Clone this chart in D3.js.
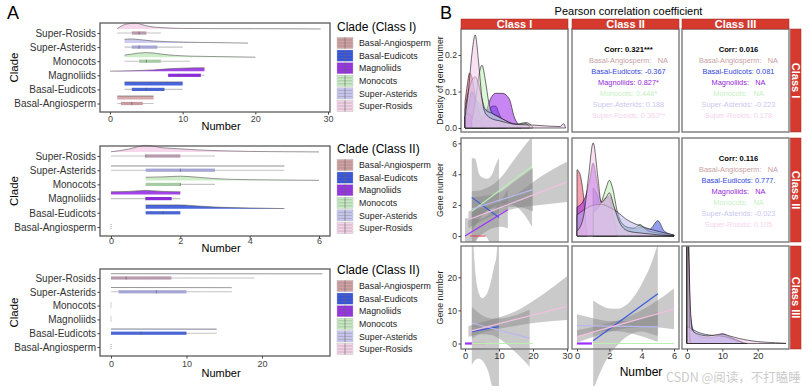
<!DOCTYPE html>
<html><head><meta charset="utf-8">
<script src="https://cdn.jsdelivr.net/npm/d3@7"></script>
<style>body{margin:0;background:#fff}svg{display:block;font-family:"Liberation Sans",Arial,sans-serif}</style>
</head><body><svg id="c" width="807" height="391"></svg>
<script>
// ================= DATA =================
const clades = ["Basal-Angiosperm","Basal-Eudicots","Magnoliids","Monocots","Super-Asterids","Super-Rosids"];
const classNames = ["Class I","Class II","Class III"];
const legendTitles = ["Clade (Class I)","Clade (Class II)","Clade (Class II)"];
const colorsA = ["#d2a0a3","#3553dc","#9630e4","#c6ebc2","#c6c6ef","#f5d3e9"];
const boxColorsA = ["#c8999d","#4a66d4","#8c2cd8","#a7cba4","#a6a6d4","#b89aae"];
const colorsB = ["#f0506e","#3a50e0","#9a22e8","#bfeeb8","#b8b8ec","#f2c8e8"];
const lineColorsB = ["#e8485c","#3a5ae0","#9b30ff","#b8f0b0","#b8b8f0","#f2c0e0"];
const textColorsB = ["#c9a1a3","#3046de","#9526d9","#c6f0c3","#c8c8f2","#f6d4ec"];

// Panel A boxplots [min, q1, median, q3, max] per clade
const boxClassI   = [[1,1.5,3,4.5,6],[2,3,5,7.5,10],[8,8,9.5,12.5,13],[2,4,5,7,11],[2,3,4,6.5,10],[1,3,4,5,7]];
const boxClassII  = [[0,0,0,0,0],[1,1,1.5,2,2],[0,1,1,1.75,2],[1,1,2,2,3],[0,1,2,3,5],[0,1,1,2,3]];
const boxClassIII = [[0,0,0,0,0],[0,0,4,10,14],[0,0,0,0,0],[0,0,0,0,0],[0,1,6,10,16],[0,0,2,8,19]];
// Panel A half-densities [number, relative height]
const densClassI = [
  [[1,0.5],[6,0.5]],
  [[2,0.5],[10,0.5]],
  [[0,0.02],[3,0.08],[6,0.2],[8,0.35],[10,0.45],[13,0.5]],
  [[2,0.3],[3,0.45],[4,0.6],[5,0.65],[6,0.6],[7,0.45],[9,0.25],[11,0.15],[14,0.1],[17,0.05],[20,0]],
  [[2,0.55],[3,0.6],[4,0.5],[6,0.3],[8,0.2],[10,0.15],[12,0.1],[15,0.06],[19,0]],
  [[1,0.05],[1.5,0.4],[2.5,0.75],[3.5,0.85],[4.5,0.6],[5.5,0.35],[7,0.2],[10,0.08],[15,0.05],[20,0.04],[25,0.03],[29,0]]
];
const densClassII = [
  null,
  [[1,0.55],[2,0.55],[2.5,0.4],[3,0.25],[4,0.12],[5,0.03]],
  [[0,0.4],[0.5,0.45],[1,0.6],[1.5,0.45],[2,0.4]],
  [[1,0.45],[1.5,0.5],[2,0.6],[2.5,0.45],[3,0.25],[4,0.1],[5,0.05],[6,0.01]],
  [[0,0.04],[5,0.03]],
  [[0,0.03],[0.5,0.4],[1,0.95],[1.5,0.6],[2,0.45],[2.5,0.3],[3,0.2],[4,0.08],[5,0.04],[6,0.01]]
];
const densClassIII = [
  null,
  [[0,0.04],[14,0.02]],
  null,
  null,
  [[0,0.04],[16,0.02]],
  [[0,0.04],[28,0.02]]
];

// Panel B diagonal densities [number, density]
const diagClassI = [
  [[0,0.07],[0.7,0.12],[1.3,0.15],[2,0.14],[3,0.09],[4,0.05],[5,0.02],[6,0.005]],
  [[0,0.03],[1,0.06],[2,0.1],[3,0.08],[4,0.07],[5,0.06],[6,0.05],[7,0.05],[8,0.06],[9,0.06],[10,0.04],[11,0.02],[12,0.005]],
  [[0,0.03],[1,0.04],[2,0.03],[4,0.02],[6,0.04],[7.5,0.08],[9,0.095],[11,0.095],[13,0.08],[14.5,0.03],[16.5,0.003]],
  [[2,0.02],[3,0.07],[4,0.14],[5,0.172],[6,0.13],[7,0.07],[8,0.04],[10,0.03],[12,0.02],[15,0.01],[18,0.015],[20,0.002]],
  [[0,0.05],[1,0.1],[2,0.13],[3,0.14],[4,0.12],[5,0.08],[6,0.05],[8,0.04],[10,0.03],[12,0.02],[15,0.01],[18,0.012],[19,0.002]],
  [[0,0.03],[1,0.1],[2,0.2],[3,0.255],[4,0.18],[5,0.08],[6,0.04],[8,0.025],[10,0.02],[15,0.01],[20,0.008],[25,0.005],[28,0.004],[29,0.012],[29.6,0]]
];
const diagClassII = [
  [[0,0.69],[0.15,0.66],[0.3,0.55],[0.45,0.33],[0.55,0.12],[0.62,0]],
  [[1,0.5],[1.2,0.45],[1.5,0.3],[1.8,0.38],[2,0.42],[2.3,0.3],[2.7,0.15],[3,0.1],[3.5,0.08],[4,0.09],[4.5,0.07],[5,0.16],[5.4,0.05],[6,0.01]],
  [[0,0.3],[0.5,0.4],[0.8,0.6],[1,0.76],[1.2,0.6],[1.5,0.35],[1.8,0.4],[2,0.4],[2.3,0.15],[2.5,0.02]],
  [[1,0.25],[1.5,0.35],[1.8,0.5],[2,0.58],[2.2,0.5],[2.5,0.25],[3,0.1],[3.5,0.08],[3.9,0.12],[4.3,0.06],[5,0.03],[6,0]],
  [[0,0.22],[0.5,0.28],[1,0.32],[1.5,0.33],[2,0.3],[2.5,0.25],[3,0.18],[4,0.1],[5,0.05],[6,0.01]],
  [[0,0.05],[0.4,0.2],[0.7,0.6],[1,0.97],[1.3,0.6],[1.5,0.35],[1.8,0.4],[2,0.45],[2.3,0.3],[2.7,0.12],[3.2,0.05],[4,0.03],[6,0]]
];
const diagClassIII = [
  [[0,1.5],[0.3,1.5],[0.6,0]],
  [[0,1.2],[0.5,0.8],[1,0.3],[2,0.12],[4,0.07],[6,0.06],[8,0.07],[10,0.1],[12,0.07],[14,0.04],[16,0.01],[17,0]],
  [[0,1.5],[0.3,1.5],[0.8,0.1],[1.2,0]],
  [[0,1.5],[0.3,1.5],[0.7,0.05],[1,0]],
  [[0,0.18],[1,0.16],[3,0.12],[6,0.09],[9,0.08],[11,0.07],[14,0.03],[16,0.005]],
  [[0,1.3],[0.5,0.9],[1,0.35],[1.5,0.14],[3,0.1],[6,0.08],[8,0.09],[10,0.1],[12,0.08],[15,0.05],[20,0.02],[25,0.008],[28,0.002]]
];

// Panel B regression lines [cladeIndex, x0, y0, x1, y1]
const linesIvsII = [[0,1.5,0,6,0],[1,2,2.5,10,1.2],[2,0,0,12.6,1.7],[3,2,1.6,19.7,4.5],[4,2,1.75,20,3.0],[5,1,1.05,30,3.5]];
const linesIvsIII = [[0,1,0,6,0],[2,0,0,2,0],[3,2,0,20,0],[1,2,3.6,10,5.1],[4,2,6.2,19,1.6],[5,1,3.6,30,11.2]];
const linesIIvsIII = [[2,0,0,0.93,0],[3,1,0,6,0],[4,0,5.4,5,5.0],[1,1,0.8,5,15],[5,0,2.1,6,10.4]];
// Confidence ribbons [cladeIndex, [[x, lower, upper], ...]]
const ribbonsIvsII = [
  [1,[[2,-1.5,5.05],[3,-0.6,5.0],[4,0.0,4.1],[5,0.1,3.8],[6.4,-0.1,3.7],[8,-0.8,4.0],[9,-1.6,4.6],[10,-2.6,5.05]]],
  [2,[[0,-1.1,1.15],[4,-0.1,1.1],[8,0.5,1.6],[10.5,0.6,2.3],[12.6,0.5,3.0]]],
  [3,[[2,0.3,2.9],[5,1.3,3.0],[8,1.9,3.3],[11,2.1,3.9],[14,2.0,4.8],[17,1.5,5.7],[19.7,0.6,6.4]]],
  [4,[[2,1.0,2.5],[6,1.6,2.6],[10,1.9,2.8],[15,1.9,3.6],[20,1.6,4.4]]],
  [5,[[1,0.5,1.6],[8,1.3,2.0],[15,1.8,2.7],[22,2.0,3.8],[30,2.2,4.8]]]
];
const ribbonsIvsIII = [
  [1,[[2,-6.5,40],[3,-5,22],[4,-4.5,15.5],[5,-5,13.7],[6,-6.5,14.3],[7,-9,16.5],[7.7,-12,19],[8.5,-14,23],[9.3,-14,27],[10,-14,40]]],
  [4,[[2,1.5,11],[5,2.8,8.5],[8,2.5,7.5],[11,0.8,7.6],[14,-1.8,8.3],[17,-4.8,9.4],[19,-7,10.2]]],
  [5,[[1,2.0,5.3],[8,4.0,7.3],[15,5.4,9.8],[22,6.4,14.2],[30,7.1,20.3]]]
];
const ribbonsIIvsIII = [
  [4,[[0,2.0,8.8],[1,3.3,7.6],[2,3.8,6.8],[3,3.4,6.8],[4,2.2,7.8],[5,0.5,9.5]]],
  [1,[[1,-14,13],[1.5,-8,11.5],[2,-3.5,10.6],[2.5,-0.5,10.5],[3,1.8,11.5],[3.5,3.2,14],[4,3.6,18],[4.5,3,23],[5,2.3,30]]],
  [5,[[0,0.3,4.0],[1.5,2.8,5.6],[3,4.6,7.8],[4.5,5.0,11.5],[6,4.3,16.6]]]
];
// Correlations
const corrIvsII   = {total:"0.321***", values:["NA","-0.367","0.827*","0.448*","0.188","0.363**"]};
const corrIvsIII  = {total:"0.016",    values:["NA","0.081","NA","NA","-0.223","0.178"]};
const corrIIvsIII = {total:"0.116",    values:["NA","0.777.","NA","NA","-0.023","0.105"]};

// ================= DRAW =================
const svg = d3.select("#c");
const defs = svg.append("defs");
let clipId = 0;
function clip(x,y,w,h){const id="cl"+(clipId++);defs.append("clipPath").attr("id",id).append("rect").attr("x",x).attr("y",y).attr("width",w).attr("height",h);return "url(#"+id+")";}

svg.append("text").attr("x",7).attr("y",19).attr("font-size",18).text("A");
svg.append("text").attr("x",440).attr("y",19).attr("font-size",18).text("B");

// ---------- Panel A ----------
const aLayouts = [
  {frame:[100,23,330,112], xd:[0,30], xr:[110,328], ticks:[0,10,20,30], rr:[103.5,33], tickY:121.5, numY:129.5, legY:27, box:boxClassI, dens:densClassI},
  {frame:[100,146,330,236], xd:[0,6], xr:[111,319], ticks:[0,2,4,6], rr:[227,156], tickY:243.5, numY:252, legY:149, box:boxClassII, dens:densClassII},
  {frame:[100,269,330,356], xd:[0,20], xr:[111,262], ticks:[0,10,20], rr:[347,278], tickY:367, numY:376.5, legY:270, box:boxClassIII, dens:densClassIII}
];
const hA = d3.scaleLinear().domain([0,1]).range([0,7]);
aLayouts.forEach((L,pi)=>{
  const x = d3.scaleLinear().domain(L.xd).range(L.xr);
  const y = d3.scalePoint().domain(clades).range(L.rr);
  const g = svg.append("g");
  const [fx0,fy0,fx1,fy1] = L.frame;
  g.append("rect").attr("x",fx0).attr("y",fy0).attr("width",fx1-fx0).attr("height",fy1-fy0).attr("fill","#fff");
  clades.forEach((c,i)=>{
    const ry = y(c), base = ry-4;
    const d = L.dens[i];
    if (d){
      const area = d3.area().x(p=>x(p[0])).y0(base).y1(p=>base-hA(p[1])).curve(d3.curveMonotoneX);
      const line = d3.line().x(p=>x(p[0])).y(p=>base-hA(p[1])).curve(d3.curveMonotoneX);
      g.append("path").attr("d",area(d)).attr("fill",colorsA[i]).attr("fill-opacity",0.9);
      g.append("path").attr("d",line(d)).attr("fill","none").attr("stroke","#555").attr("stroke-width",0.6);
    }
    const b = L.box[i];
    if (b[0]===b[4]){
      g.append("line").attr("x1",x(b[0])).attr("x2",x(b[0])).attr("y1",ry-3).attr("y2",ry+2).attr("stroke","#777").attr("stroke-width",0.7).attr("stroke-dasharray","1,1");
    } else {
      g.append("line").attr("x1",x(b[0])).attr("x2",x(b[4])).attr("y1",ry).attr("y2",ry).attr("stroke","#c4c4c4").attr("stroke-width",1.1);
      if (b[3]>b[1]) g.append("rect").attr("x",x(b[1])).attr("width",x(b[3])-x(b[1])).attr("y",ry-1.6).attr("height",3.2).attr("fill",boxColorsA[i]);
      g.append("line").attr("x1",x(b[2])).attr("x2",x(b[2])).attr("y1",ry-1.6).attr("y2",ry+1.6).attr("stroke","#555").attr("stroke-width",0.6);
    }
  });
  g.append("rect").attr("x",fx0).attr("y",fy0).attr("width",fx1-fx0).attr("height",fy1-fy0).attr("fill","none").attr("stroke","#5a5a5a").attr("stroke-width",1.3);
  const ax = g.append("g").attr("transform",`translate(0,${fy1})`).call(d3.axisBottom(x).tickValues(L.ticks).tickSize(2.5).tickFormat(d3.format("d")));
  ax.select(".domain").remove();
  ax.selectAll("line").attr("stroke","#444");
  ax.selectAll("text").attr("dy",null).attr("y",L.tickY-fy1).attr("font-size",9).attr("fill","#444").attr("font-family",null);
  const ay = g.append("g").attr("transform",`translate(${fx0},0)`).call(d3.axisLeft(y).tickSize(2.5).tickPadding(1.5));
  ay.select(".domain").remove();
  ay.selectAll("line").attr("stroke","#444");
  ay.selectAll("text").attr("font-size",10).attr("fill","#333").attr("font-family",null);
  g.append("text").attr("x",221).attr("y",L.numY).attr("text-anchor","middle").attr("font-size",11).text("Number");
  g.append("text").attr("transform",`translate(18,${(fy0+fy1)/2}) rotate(-90)`).attr("text-anchor","middle").attr("font-size",11.5).text("Clade");
  // legend
  const lg = g.append("g");
  lg.append("text").attr("x",337).attr("y",L.legY+4.2).attr("font-size",12).text(legendTitles[pi]);
  clades.forEach((c,i)=>{
    const cy = L.legY+16+i*12.6;
    lg.append("rect").attr("x",337).attr("y",cy-5.6).attr("width",16).attr("height",11.2).attr("fill",colorsA[i]).attr("stroke","#bbb").attr("stroke-width",0.4);
    [-3,0,3].forEach(o=>lg.append("line").attr("x1",338).attr("x2",352).attr("y1",cy+o).attr("y2",cy+o).attr("stroke","#777").attr("stroke-width",0.5).attr("stroke-opacity",0.7));
    lg.append("line").attr("x1",345).attr("x2",345).attr("y1",cy-5.6).attr("y2",cy+5.6).attr("stroke","#666").attr("stroke-width",0.6);
    lg.append("text").attr("x",359).attr("y",cy+3.1).attr("font-size",8.8).attr("fill","#222").text(c);
  });
});

// ---------- Panel B ----------
const bCols = [
  {x0:461,x1:568,sx:d3.scaleLinear().domain([0,30]).range([465,567]),ticks:[0,10,20,30]},
  {x0:572,x1:679,sx:d3.scaleLinear().domain([0,6]).range([577,674]),ticks:[0,2,4,6]},
  {x0:682,x1:789,sx:d3.scaleLinear().domain([0,20]).range([687,757.7]),ticks:[0,10,20]}
];
const bRows = [
  {y0:29,y1:132,sy:d3.scaleLinear().domain([0,0.2]).range([128,55]),ticks:[0,0.1,0.2],fmt:d3.format(".1f"),title:"Density of gene numer"},
  {y0:138,y1:242,sy:d3.scaleLinear().domain([0,6]).range([236,143.3]),ticks:[0,2,4,6],fmt:d3.format("d"),title:"Gene number"},
  {y0:246,y1:349,sy:d3.scaleLinear().domain([0,20]).range([343.5,277.3]),ticks:[0,10,20],fmt:d3.format("d"),title:"Gene number"}
];
svg.append("text").attr("x",628.5).attr("y",15).attr("text-anchor","middle").attr("font-size",11).text("Pearson correlation coefficient");

const B = svg.append("g");
bRows.forEach(r=>bCols.forEach(c=>B.append("rect").attr("x",c.x0).attr("y",r.y0).attr("width",c.x1-c.x0).attr("height",r.y1-r.y0).attr("fill","#fff")));

function drawDiag(ci, data, sy){
  const c=bCols[ci], r=bRows[ci];
  const g=B.append("g").attr("clip-path",clip(c.x0,r.y0,c.x1-c.x0,r.y1-r.y0));
  const area=d3.area().x(p=>c.sx(p[0])).y0(sy(0)).y1(p=>sy(p[1])).curve(d3.curveMonotoneX);
  data.forEach((d,i)=>{
    g.append("path").attr("d",area(d)).attr("fill",colorsB[i]).attr("fill-opacity",0.55).attr("stroke","#111").attr("stroke-width",0.6);
  });
}
drawDiag(0, diagClassI, bRows[0].sy);
drawDiag(1, diagClassII, d3.scaleLinear().domain([0,1]).range([236,140]));
drawDiag(2, diagClassIII, d3.scaleLinear().domain([0,1]).range([343.5,248]));

function drawLower(ri, ci, lines, ribbons, bottomExtra){
  const c=bCols[ci], r=bRows[ri], sx=c.sx, sy=r.sy;
  const g=B.append("g").attr("clip-path",clip(c.x0,r.y0,c.x1-c.x0,r.y1-r.y0+bottomExtra));
  const area=d3.area().x(p=>sx(p[0])).y0(p=>sy(p[1])).y1(p=>sy(p[2])).curve(d3.curveMonotoneX);
  ribbons.forEach(([k,pts])=>g.append("path").attr("d",area(pts)).attr("fill","#808080").attr("fill-opacity",0.42));
  lines.forEach(([k,x0,y0,x1,y1])=>{
    const flat = (y0===0&&y1===0);
    g.append("line").attr("x1",sx(x0)).attr("x2",sx(x1)).attr("y1",sy(y0)).attr("y2",sy(y1))
      .attr("stroke",lineColorsB[k]).attr("stroke-width",flat&&k===2?2.2:1.2);
  });
}
drawLower(1,0,linesIvsII,ribbonsIvsII,0);
drawLower(2,0,linesIvsIII,ribbonsIvsIII,37);
drawLower(2,1,linesIIvsIII,ribbonsIIvsIII,37);

function drawCorr(ri, ci, corr){
  const c=bCols[ci], r=bRows[ri];
  const cx=(c.x0+c.x1)/2+3, cy=(r.y0+r.y1)/2+1.5;
  const g=B.append("g").attr("text-anchor","middle");
  g.append("text").attr("x",cx).attr("y",cy-33+2.8).attr("font-size",7.6).attr("font-weight","bold").attr("fill","#000").text("Corr: "+corr.total);
  clades.forEach((cl,i)=>{
    const v=corr.values[i];
    g.append("text").attr("x",cx).attr("y",cy-33+(i+1)*11+2.7).attr("font-size",7.4).attr("fill",textColorsB[i])
      .style("white-space","pre").text(cl+":"+(v==="NA"?"   NA":" "+v));
  });
}
drawCorr(0,1,corrIvsII);
drawCorr(0,2,corrIvsIII);
drawCorr(1,2,corrIIvsIII);

bRows.forEach(r=>bCols.forEach(c=>B.append("rect").attr("x",c.x0).attr("y",r.y0).attr("width",c.x1-c.x0).attr("height",r.y1-r.y0).attr("fill","none").attr("stroke","#7a7a7a").attr("stroke-width",1.4)));
bCols.forEach((c,i)=>{
  B.append("rect").attr("x",c.x0).attr("y",19).attr("width",c.x1-c.x0).attr("height",10).attr("fill","#d63a2f").attr("stroke","#9a2a20").attr("stroke-width",0.5);
  B.append("text").attr("x",(c.x0+c.x1)/2).attr("y",28).attr("text-anchor","middle").attr("font-size",11).attr("font-weight","bold").attr("fill","#fff").text(classNames[i]);
});
bRows.forEach((r,i)=>{
  B.append("rect").attr("x",790.5).attr("y",r.y0).attr("width",10.5).attr("height",r.y1-r.y0).attr("fill","#d63a2f").attr("stroke","#9a2a20").attr("stroke-width",0.5);
  B.append("text").attr("transform",`translate(795.7,${(r.y0+r.y1)/2}) rotate(90)`).attr("dy","0.36em").attr("text-anchor","middle").attr("font-size",11).attr("font-weight","bold").attr("fill","#fff").text(classNames[i]);
});
bRows.forEach(r=>{
  const a=B.append("g").attr("transform","translate(461,0)").call(d3.axisLeft(r.sy).tickValues(r.ticks).tickFormat(r.fmt).tickSize(2.5).tickPadding(1.5));
  a.select(".domain").remove(); a.selectAll("line").attr("stroke","#444");
  a.selectAll("text").attr("font-size",8.6).attr("fill","#333").attr("font-family",null);
  B.append("text").attr("transform",`translate(443,${(r.y0+r.y1)/2}) rotate(-90)`).attr("text-anchor","middle").attr("font-size",8.8).attr("fill","#222").text(r.title);
});
bCols.forEach(c=>{
  const a=B.append("g").attr("transform","translate(0,349)").call(d3.axisBottom(c.sx).tickValues(c.ticks).tickFormat(d3.format("d")).tickSize(2.5).tickPadding(1));
  a.select(".domain").remove(); a.selectAll("line").attr("stroke","#444");
  a.selectAll("text").attr("font-size",9.4).attr("fill","#333").attr("font-family",null);
});
svg.append("text").attr("x",641).attr("y",376).attr("text-anchor","middle").attr("font-size",12).text("Number");
svg.append("text").attr("x",666).attr("y",382).attr("font-size",12.5).attr("fill","#bdbdbd").attr("fill-opacity",0.8)
  .attr("font-family",'"Noto Sans CJK SC","Noto Sans",sans-serif').text("CSDN @阅读，不打瞌睡");
</script></body></html>
